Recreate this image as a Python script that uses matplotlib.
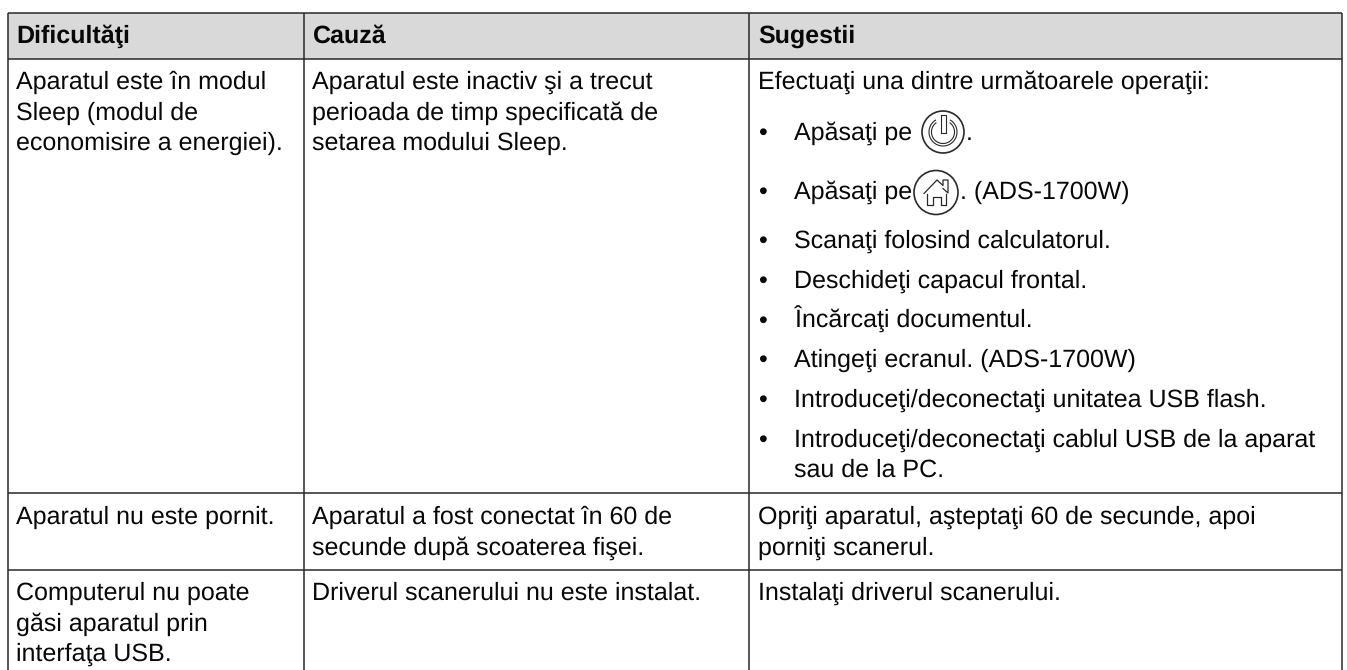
import matplotlib
matplotlib.use("Agg")
import matplotlib.pyplot as plt
from matplotlib.patches import Circle, Rectangle, Arc

plt.rcParams['font.family'] = ['Liberation Sans', 'DejaVu Sans']
plt.rcParams['text.hinting'] = 'none'
plt.rcParams['text.hinting_factor'] = 1
W, H = 1347, 670
INK = '#080808'
LINE = '#2a2a2a'

headers = ["Dificultăţi", "Cauză", "Sugestii"]
col_text_x = [16.3, 312.5, 758]
col_lines = [7.5, 304, 749, 1341.5]
row_lines = [12.5, 59, 493, 570]
header_baseline = 43

col1 = [("Aparatul este în modul", 89), ("Sleep (modul de", 119.5), ("economisire a energiei).", 150),
        ("Aparatul nu este pornit.", 524),
        ("Computerul nu poate", 600), ("găsi aparatul prin", 630.5), ("interfaţa USB.", 661)]
col2 = [("Aparatul este inactiv şi a trecut", 89), ("perioada de timp specificată de", 119.5),
        ("setarea modului Sleep.", 150),
        ("Aparatul a fost conectat în 60 de", 524), ("secunde după scoaterea fişei.", 554.5),
        ("Driverul scanerului nu este instalat.", 600)]
col3 = [("Efectuaţi una dintre următoarele operaţii:", 89),
        ("Opriţi aparatul, aşteptaţi 60 de secunde, apoi", 524), ("porniţi scanerul.", 554.5),
        ("Instalaţi driverul scanerului.", 600)]
bullets = [("Apăsaţi pe", 140, True), ("Apăsaţi pe", 199, True),
           ("Scanaţi folosind calculatorul.", 248, True), ("Deschideţi capacul frontal.", 288, True),
           ("Încărcaţi documentul.", 328, True), ("Atingeţi ecranul. (ADS-1700W)", 367, True),
           ("Introduceţi/deconectaţi unitatea USB flash.", 407, True),
           ("Introduceţi/deconectaţi cablul USB de la aparat", 447, True),
           ("sau de la PC.", 477, False)]

fig = plt.figure(figsize=(W/100, H/100), dpi=100, facecolor='white')
ax = fig.add_axes([0, 0, 1, 1])
ax.set_xlim(0, W); ax.set_ylim(H, 0); ax.axis('off')

ax.add_patch(Rectangle((col_lines[0], row_lines[0]), col_lines[-1]-col_lines[0], row_lines[1]-row_lines[0],
                       fc='#d9d9d9', ec='none', zorder=0))
for x in col_lines:
    ax.plot([x, x], [row_lines[0], H], color=LINE, lw=1.1, zorder=2, solid_capstyle='butt')
for y in row_lines:
    ax.plot([col_lines[0], col_lines[-1]], [y, y], color=LINE, lw=1.1, zorder=2, solid_capstyle='butt')

FS = 18.24
def t(x, y, s, **k):
    ax.text(x, y, s, fontsize=FS, color=INK, va='baseline', ha='left', **k)

for x, s in zip(col_text_x, headers):
    t(x, header_baseline, s, fontweight='bold')
for x, col in zip(col_text_x, [col1, col2, col3]):
    for s, y in col:
        t(x, y, s)
for s, y, b in bullets:
    if b:
        t(758, y, "•")
    t(794.5, y, s)
t(966, 140, ".")
t(960, 199, ". (ADS-1700W)")

# power icon
px, py = 943, 132
ax.add_patch(Circle((px, py), 21, fc='none', ec=LINE, lw=1.2))
ax.add_patch(Arc((px, py), 28, 28, theta1=-60, theta2=240, ec=LINE, lw=0.8))
ax.add_patch(Arc((px, py), 23, 23, theta1=-55, theta2=235, ec=LINE, lw=0.8))
ax.plot([px-2, px-2, px+2.5, px+2.5, px-2], [133, 115, 115, 133, 133], color=LINE, lw=0.8)
# home icon
hx, hy = 936, 192.5
ax.add_patch(Circle((hx, hy), 22, fc='none', ec=LINE, lw=1.2))
ax.plot([hx-12, hx+1, hx+7, hx+7, hx+12, hx+12, hx+7],
        [hy+1, hy-12.5, hy-7, hy-12.5, hy-12.5, hy+0.5, hy-4], color=LINE, lw=0.9)
ax.plot([hx-9, hx-9, hx-3, hx-3, hx+5, hx+5, hx+10, hx+10],
        [hy+1, hy+12.5, hy+12.5, hy+4.5, hy+4.5, hy+12.5, hy+12.5, hy+1], color=LINE, lw=0.9)

fig.savefig('out.png', dpi=100)
